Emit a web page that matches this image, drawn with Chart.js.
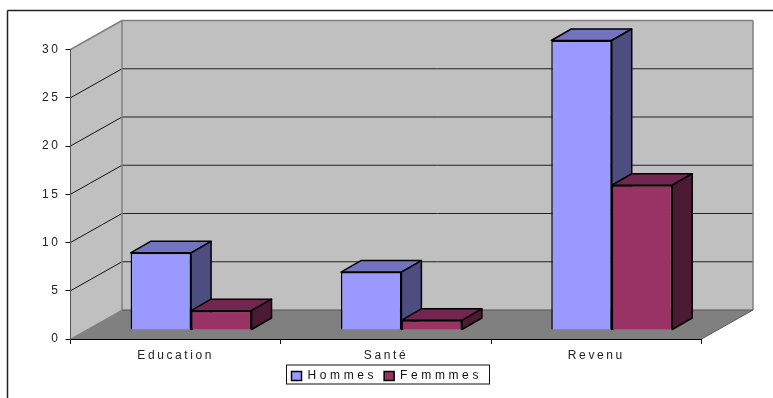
<!DOCTYPE html>
<html lang="fr">
<head>
<meta charset="utf-8">
<style>
  html, body { margin: 0; padding: 0; background: #fff; }
  #wrap { width: 773px; height: 398px; position: relative; overflow: hidden; }
</style>
<script src="https://cdn.jsdelivr.net/npm/chart.js@4"></script>
</head>
<body>
<div id="wrap"><canvas id="chart" width="773" height="398"></canvas></div>
<script>
const categories = ['Education', 'Santé', 'Revenu'];
const hommes = [8, 6, 30];
const femmes = [2, 1, 15];
const yTicks = [0, 5, 10, 15, 20, 25, 30];

const FONT = '"Liberation Sans", Arial, sans-serif';
const AXIS_SPACING = '2.6px';
const LEGEND_SPACING = '3.6px';

// Depth of the box (back wall relative to front axes) and of each column.
const ROOM = { dx: 51.5, dy: -29 };
const BAR_OFFSET = { dx: 15.4, dy: -9 };
const BAR_DEPTH = { dx: 20, dy: -11.5 };
// The legend band stops at the plot's right edge; this recentres it on the canvas.
const LEGEND_SHIFT = { dx: 36, dy: 1 };
const EDGE = 1.5;

const SHADES = [
  { top: '#7373BF', side: '#4D4D80' },
  { top: '#732650', side: '#4D1A33' }
];

function poly(ctx, pts, fill, stroke, width) {
  ctx.beginPath();
  pts.forEach((p, i) => i ? ctx.lineTo(p[0], p[1]) : ctx.moveTo(p[0], p[1]));
  ctx.closePath();
  if (fill) { ctx.fillStyle = fill; ctx.fill(); }
  if (stroke) { ctx.strokeStyle = stroke; ctx.lineWidth = width; ctx.lineJoin = 'round'; ctx.stroke(); }
}

function line(ctx, x1, y1, x2, y2, color, width) {
  ctx.beginPath();
  ctx.moveTo(x1, y1);
  ctx.lineTo(x2, y2);
  ctx.strokeStyle = color;
  ctx.lineWidth = width;
  ctx.stroke();
}

// Wide tracking on all text; the legend uses a wider one and a fixed band height.
const spacingPlugin = {
  id: 'spacing',
  beforeLayout(chart) {
    const ctx = chart.ctx;
    ctx.letterSpacing = AXIS_SPACING;
    const legend = chart.legend;
    if (legend.fit.wrapped) return;
    const fit = legend.fit, draw = legend.draw;
    legend.fit = function () {
      ctx.letterSpacing = LEGEND_SPACING;
      fit.call(this);
      ctx.letterSpacing = AXIS_SPACING;
      this.height = 25;
    };
    legend.fit.wrapped = true;
    legend.draw = function () {
      ctx.save();
      ctx.translate(LEGEND_SHIFT.dx, LEGEND_SHIFT.dy);
      ctx.letterSpacing = LEGEND_SPACING;
      draw.call(this);
      ctx.restore();
    };
  },
  beforeDraw(chart) { chart.ctx.letterSpacing = AXIS_SPACING; }
};

// Outer frame, walls, floor and gridlines of the 3D box.
const roomPlugin = {
  id: 'room',
  beforeDraw(chart) {
    const { ctx, chartArea: a, scales: { y } } = chart;
    const { dx, dy } = ROOM;
    ctx.save();

    line(ctx, 7.5, 10.5, 773, 10.5, '#222', 1.5);
    line(ctx, 7.5, 10.5, 7.5, 398, '#222', 1.5);

    const L = a.left, R = a.right, T = a.top, B = a.bottom;
    poly(ctx, [[L, T], [L + dx, T + dy], [L + dx, B + dy], [L, B]], '#C0C0C0');
    poly(ctx, [[L + dx, T + dy], [R + dx, T + dy], [R + dx, B + dy], [L + dx, B + dy]], '#C0C0C0');
    poly(ctx, [[L, B], [L + dx, B + dy], [R + dx, B + dy], [R, B]], '#808080');

    yTicks.forEach(v => {
      if (v === 0 || v === 30) return;
      const py = y.getPixelForValue(v);
      line(ctx, L, py, L + dx, py + dy, '#111', 1);
      line(ctx, L + dx, py + dy, R + dx, py + dy, '#222', 1);
    });

    line(ctx, L, T, L + dx, T + dy, '#808080', 1.5);
    line(ctx, L + dx, T + dy, R + dx, T + dy, '#808080', 1.5);
    line(ctx, L + dx, T + dy, L + dx, B + dy, '#808080', 1.5);
    line(ctx, R + dx, T + dy, R + dx, B + dy, '#808080', 1.5);
    line(ctx, L, B, L + dx, B + dy, '#808080', 1);
    line(ctx, L + dx, B + dy, R + dx, B + dy, '#555', 1);
    line(ctx, R, B, R + dx, B + dy, '#555', 1);

    // Frame around the legend entries.
    const boxes = chart.legend.legendHitBoxes;
    if (boxes && boxes.length) {
      const first = boxes[0], last = boxes[boxes.length - 1];
      const x0 = Math.round(first.left + LEGEND_SHIFT.dx) - 5.5;
      const x1 = Math.round(last.left + last.width + LEGEND_SHIFT.dx) + 7.5;
      ctx.strokeStyle = '#111';
      ctx.lineWidth = 1;
      ctx.strokeRect(x0, 365, x1 - x0, 19);
    }
    ctx.restore();
  }
};

// Top and side faces of each column; the library draws the front faces.
const columnPlugin = {
  id: 'columns',
  beforeDatasetsDraw(chart) {
    const { ctx } = chart;
    ctx.save();
    ctx.translate(BAR_OFFSET.dx, BAR_OFFSET.dy);
    const { dx, dy } = BAR_DEPTH;
    chart.data.datasets.forEach((ds, i) => {
      chart.getDatasetMeta(i).data.forEach(bar => {
        const l = bar.x - bar.width / 2, r = bar.x + bar.width / 2;
        const t = bar.y, b = bar.base;
        poly(ctx, [[l, t], [l + dx, t + dy], [r + dx, t + dy], [r, t]], SHADES[i].top, '#000', EDGE);
        poly(ctx, [[r, t], [r + dx, t + dy], [r + dx, b + dy], [r, b]], SHADES[i].side, '#000', EDGE);
      });
    });
    ctx.restore();
    ctx.save();
    ctx.translate(BAR_OFFSET.dx, BAR_OFFSET.dy);
  },
  afterDatasetsDraw(chart) {
    chart.ctx.restore();
  }
};

Chart.defaults.font.family = FONT;
Chart.defaults.font.size = 12;
Chart.defaults.color = '#222';

new Chart(document.getElementById('chart'), {
  type: 'bar',
  data: {
    labels: categories,
    datasets: [
      { label: 'Hommes', data: hommes, backgroundColor: '#9999FF', borderColor: '#000', borderWidth: EDGE, clip: false },
      { label: 'Femmmes', data: femmes, backgroundColor: '#993366', borderColor: '#000', borderWidth: EDGE, clip: false }
    ]
  },
  plugins: [spacingPlugin, roomPlugin, columnPlugin],
  options: {
    responsive: false,
    animation: false,
    events: [],
    layout: { padding: { left: 0, top: 49.5, right: 71.5, bottom: 11 } },
    datasets: { bar: { categoryPercentage: 0.575, barPercentage: 1 } },
    plugins: {
      tooltip: { enabled: false },
      title: { display: false },
      legend: {
        position: 'bottom',
        labels: {
          boxWidth: 10,
          boxHeight: 9,
          padding: 7,
          color: '#111',
          font: { size: 12, family: FONT }
        }
      }
    },
    scales: {
      x: {
        afterFit(scale) { scale.height = 23; },
        grid: { drawOnChartArea: false, drawTicks: true, tickLength: 5, color: '#111' },
        border: { color: '#000', width: 1 },
        ticks: { padding: 4, maxRotation: 0, color: '#222' }
      },
      y: {
        min: 0,
        max: 30,
        afterFit(scale) { scale.width = 70.5; },
        afterBuildTicks(scale) { scale.ticks = yTicks.map(value => ({ value })); },
        grid: { drawOnChartArea: false, drawTicks: true, tickLength: 5, color: '#111' },
        border: { color: '#555', width: 1 },
        ticks: { padding: 5, color: '#222' }
      }
    }
  }
});
</script>
</body>
</html>
